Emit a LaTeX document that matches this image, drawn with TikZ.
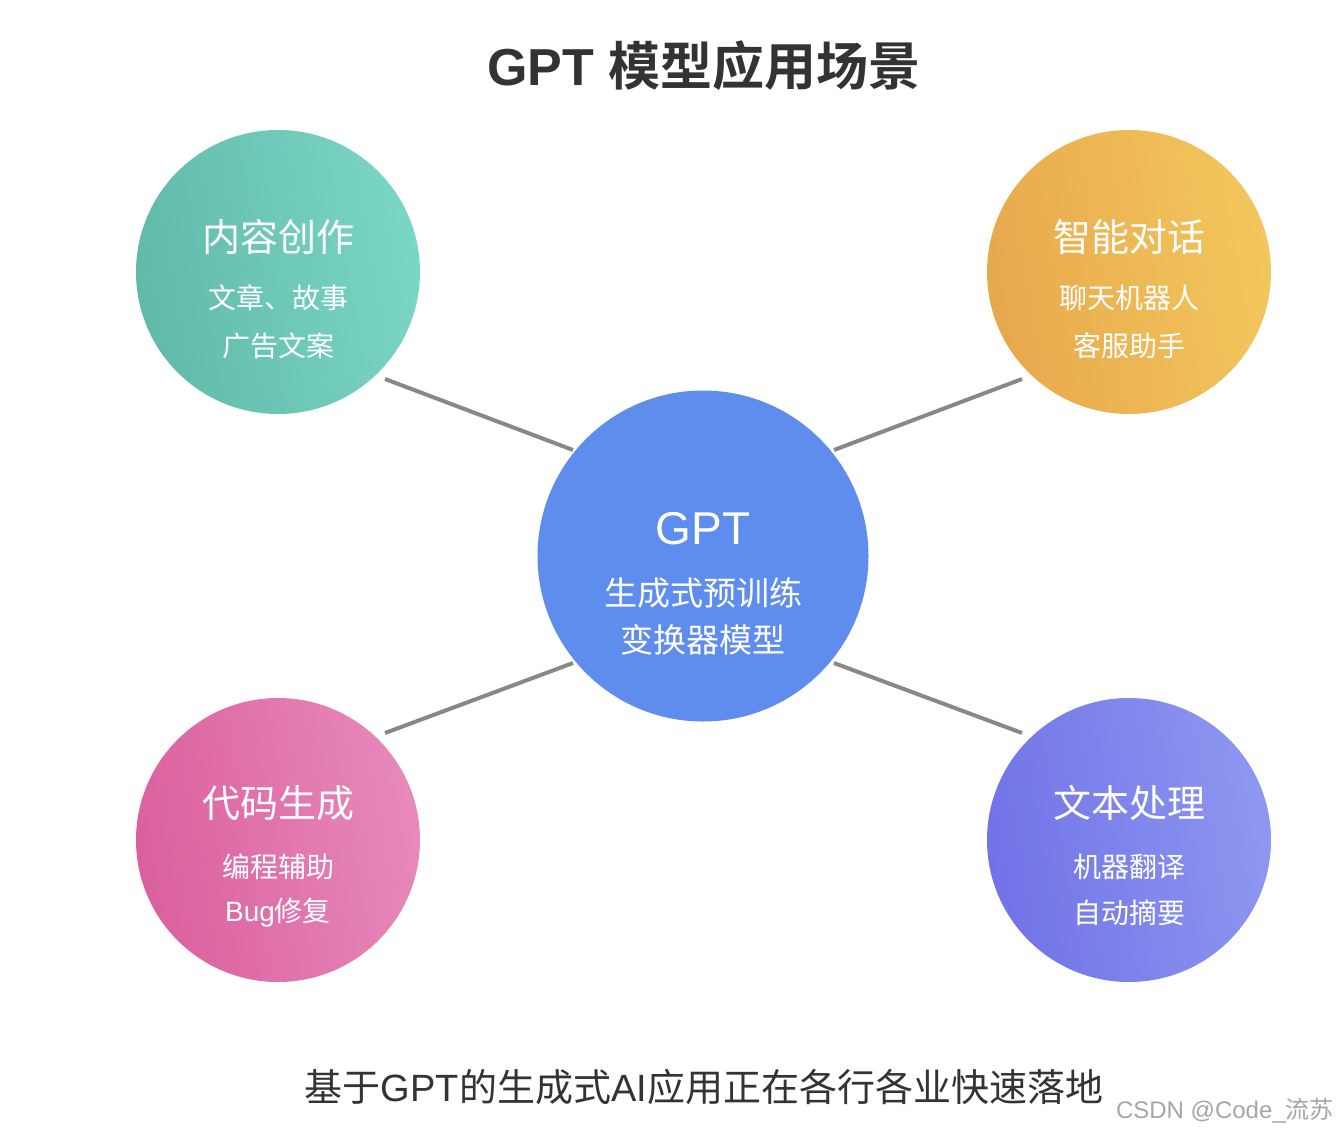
\documentclass[tikz,border=0pt]{standalone}
\usepackage{fontspec}
\setmainfont{Liberation Sans}
\newfontfamily\cjk{Noto Sans CJK SC}
\newfontfamily\cjkb{Noto Sans CJK SC Bold}
\definecolor{tealA}{HTML}{62B9A9}
\definecolor{tealB}{HTML}{7AD6C5}
\definecolor{orA}{HTML}{E8A84C}
\definecolor{orB}{HTML}{F3C75D}
\definecolor{blueC}{HTML}{5E8DEE}
\definecolor{pinkA}{HTML}{DB5F9E}
\definecolor{pinkB}{HTML}{E78ABB}
\definecolor{purA}{HTML}{7173E7}
\definecolor{purB}{HTML}{8E97F0}
\definecolor{lineC}{HTML}{888888}
\definecolor{txt}{HTML}{333333}
\begin{document}
\begin{tikzpicture}[x=1pt,y=-1pt,
  bubble/.style={circle,inner sep=0pt,minimum size=284pt},
  conn/.style={draw=lineC,line width=4pt},
  head/.style={text=white,font=\fontsize{38}{40}\selectfont\cjk,inner sep=0pt},
  sub/.style={text=white,font=\fontsize{28}{30}\selectfont\cjk,inner sep=0pt}]
\useasboundingbox (0,0) rectangle (1338,1133);
\fill[white] (0,0) rectangle (1338,1133);
% title
\node[text=txt,inner sep=0pt] (title) at (704,66) {\fontsize{52}{56}\selectfont\textbf{GPT} \cjkb 模型应用场景};
% connectors
\coordinate (a1) at (385,379); \coordinate (a2) at (573,450);
\coordinate (b1) at (834,450); \coordinate (b2) at (1022,379);
\coordinate (c1) at (385,733); \coordinate (c2) at (573,663);
\coordinate (d1) at (834,663); \coordinate (d2) at (1022,733);
\draw[conn] (a1) -- (a2);
\draw[conn] (b1) -- (b2);
\draw[conn] (c1) -- (c2);
\draw[conn] (d1) -- (d2);
% bubbles
\node[bubble,top color=tealB,bottom color=tealA,shading angle=-80] (tl) at (278,272) {};
\node[bubble,top color=orB,bottom color=orA,shading angle=-80] (tr) at (1129,272) {};
\node[bubble,top color=pinkB,bottom color=pinkA,shading angle=-80] (bl) at (278,840) {};
\node[bubble,top color=purB,bottom color=purA,shading angle=-80] (br) at (1129,840) {};
\node[circle,inner sep=0pt,minimum size=331pt,fill=blueC] (ctr) at (703,556) {};
% texts
\node[head] (tlh) at (278,237) {内容创作};
\node[sub] (tl1) at (278,298) {文章、故事};
\node[sub] (tl2) at (278,346) {广告文案};
\node[head] (trh) at (1129,237) {智能对话};
\node[sub] (tr1) at (1129,298) {聊天机器人};
\node[sub] (tr2) at (1129,346) {客服助手};
\node[head] (blh) at (278,803) {代码生成};
\node[sub] (bl1) at (278,867) {编程辅助};
\node[sub] (bl2) at (278,913) {{\rmfamily Bug}修复};
\node[head] (brh) at (1129,803) {文本处理};
\node[sub] (br1) at (1129,867) {机器翻译};
\node[sub] (br2) at (1129,913) {自动摘要};
\node[text=white,inner sep=0pt,font=\fontsize{46}{48}\selectfont] (ch) at (703,529) {GPT};
\node[text=white,inner sep=0pt,font=\fontsize{33}{35}\selectfont\cjk] (c1t) at (703,593) {生成式预训练};
\node[text=white,inner sep=0pt,font=\fontsize{33}{35}\selectfont\cjk] (c2t) at (703,640) {变换器模型};
% footer
\node[text=txt,inner sep=0pt,font=\fontsize{38}{40}\selectfont\cjk] (foot) at (704,1087) {基于{\rmfamily GPT}的生成式{\rmfamily AI}应用正在各行各业快速落地};
\node[text=black!35,inner sep=0pt,font=\fontsize{24}{26}\selectfont,anchor=east] (wm) at (1334,1111) {CSDN @Code\_{\cjk 流苏}};
\end{tikzpicture}
\end{document}
